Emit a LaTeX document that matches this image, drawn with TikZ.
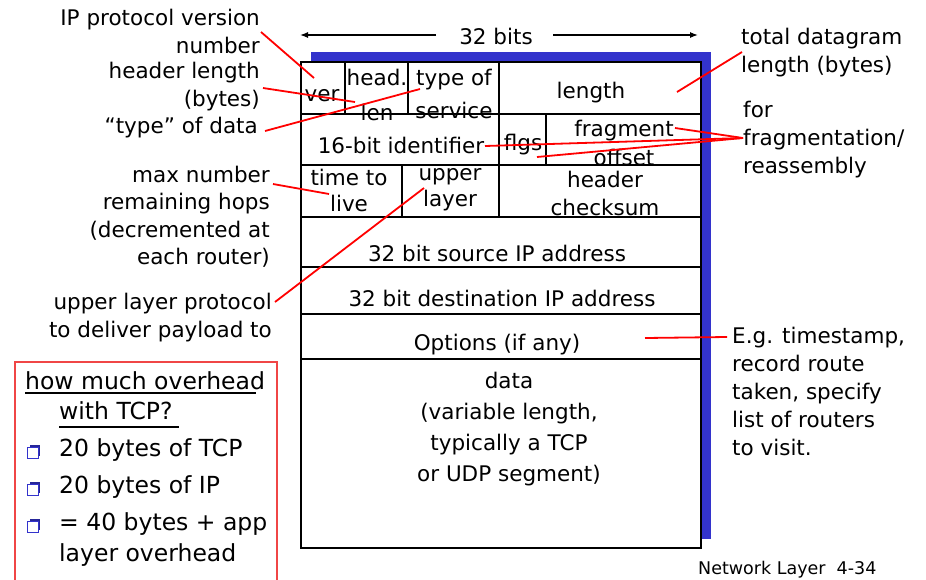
\documentclass[tikz,border=0pt]{standalone}
\usepackage{fontspec}
\setmainfont{DejaVu Sans}
\usetikzlibrary{arrows.meta}
\definecolor{shadowblue}{RGB}{51,51,204}
\definecolor{lnred}{RGB}{255,0,0}
\definecolor{boxred}{RGB}{240,70,70}
\newcommand\fsz[2]{\fontsize{#1}{#2}\selectfont}
\begin{document}
\begin{tikzpicture}[x=1pt,y=-1pt,
  cell/.style={draw=black, line width=2, anchor=north west, inner sep=0, outer sep=0},
  txt/.style={inner sep=0, align=center, font=\fsz{21.5}{28}},
  lblr/.style={inner sep=0, align=right, anchor=east, font=\fsz{21.5}{28}},
  lbll/.style={inner sep=0, align=left, anchor=west, font=\fsz{21.5}{28}},
  boxt/.style={inner sep=0, align=left, anchor=west, font=\fsz{23.5}{31}},
  ptr/.style={draw=lnred, line width=1.8},
  dimarrow/.style={draw=black, line width=1.3, -{Latex[length=8, width=6]}},
  bulsq/.style={draw=shadowblue, line width=1.4, fill=white, minimum width=11, minimum height=11, inner sep=0}
]
\useasboundingbox[fill=white] (0,0) rectangle (926,579);

% blue shadow and table background
\fill[shadowblue] (311,52) rectangle (711,539);
\fill[white] (301,62) rectangle (701,548);

% cells
\node[cell, minimum width=44,  minimum height=52] (cver)  at (301,62) {};
\node[cell, minimum width=63,  minimum height=52] (chl)   at (345,62) {};
\node[cell, minimum width=91,  minimum height=52] (ctos)  at (408,62) {};
\node[cell, minimum width=202, minimum height=52] (clen)  at (499,62) {};
\node[cell, minimum width=198, minimum height=51] (cid)   at (301,114) {};
\node[cell, minimum width=47,  minimum height=51] (cflg)  at (499,114) {};
\node[cell, minimum width=155, minimum height=51] (cfrag) at (546,114) {};
\node[cell, minimum width=101, minimum height=52] (cttl)  at (301,165) {};
\node[cell, minimum width=97,  minimum height=52] (cul)   at (402,165) {};
\node[cell, minimum width=202, minimum height=52] (ccks)  at (499,165) {};
\node[cell, minimum width=400, minimum height=50] (csrc)  at (301,217) {};
\node[cell, minimum width=400, minimum height=47] (cdst)  at (301,267) {};
\node[cell, minimum width=400, minimum height=45] (copt)  at (301,314) {};
\node[cell, minimum width=400, minimum height=189] (cdata) at (301,359) {};

% cell texts
\node[txt] (tver) at (322,96) {ver};
\node[txt, font=\fsz{21.5}{35}] (thl) at (377,94.5) {head.\\len};
\node[txt, font=\fsz{21.5}{33}] (ttos) at (454,93.5) {type of\\service};
\node[txt] (tlen) at (591,93) {length};
\node[txt] (tid) at (401,145) {16-bit identifier};
\node[txt] (tflg) at (523,145) {flgs};
\node[txt, font=\fsz{21.5}{29}] (tfrag) at (624,142.5) {fragment\\offset};
\node[txt, font=\fsz{21.5}{26}] (tttl) at (349,190) {time to\\live};
\node[txt, font=\fsz{21.5}{26}] (tul) at (450,190) {upper\\layer};
\node[txt, font=\fsz{21.5}{28}] (tcks) at (605,193) {header\\checksum};
\node[txt] (tsrc) at (497,253) {32 bit source IP address};
\node[txt] (tdst) at (502,298) {32 bit destination IP address};
\node[txt] (topt) at (497,345) {Options (if any)};
\node[txt, font=\fsz{21.5}{31}] (tdata) at (509,429) {data\\(variable length,\\typically a TCP\\ or UDP segment)};

% 32 bits
\node[txt] (bits) at (496,36) {32 bits};
\coordinate (bl0) at (436,35);
\coordinate (bl1) at (300,35);
\coordinate (br0) at (553,35);
\coordinate (br1) at (698,35);
\draw[dimarrow] (bl0) -- (bl1);
\draw[dimarrow] (br0) -- (br1);

% left labels
\node[lblr] (lver) at (260,31) {IP protocol version\\number};
\node[lblr] (lhl) at (260,87) {header length\\(bytes)};
\node[lblr] (ltos) at (258,128) {“type” of data};
\node[lblr, font=\fsz{21.5}{27.5}] (lttl) at (270,216.5) {max number\\remaining hops\\(decremented at\hspace*{0.3em}\\each router)};
\node[lblr] (lul) at (272,318) {upper layer protocol\\to deliver payload to};

% right labels
\node[lbll] (rlen) at (741,52.5) {total datagram\\length (bytes)};
\node[lbll] (rfrag) at (743,139.5) {for\\fragmentation/\\reassembly};
\node[lbll] (ropt) at (732,391) {E.g. timestamp,\\record route\\taken, specify\\list of routers\\to visit.};

% pointer coordinates
\coordinate (pver0) at (261,32);   \coordinate (pver1) at (314,78);
\coordinate (phl0) at (263,88);    \coordinate (phl1) at (355,102);
\coordinate (ptos0) at (265,131);  \coordinate (ptos1) at (420,89);
\coordinate (pttl0) at (273,184);  \coordinate (pttl1) at (329,194);
\coordinate (pul0) at (275,302);   \coordinate (pul1) at (424,188);
\coordinate (plen0) at (742,52);   \coordinate (plen1) at (677,92);
\coordinate (pfr0) at (743,138);
\coordinate (pfr1) at (675,128);   \coordinate (pfr2) at (485,146);   \coordinate (pfr3) at (537,157);
\coordinate (popt0) at (727,337);  \coordinate (popt1) at (645,338);

\draw[ptr] (pver0) -- (pver1);
\draw[ptr] (phl0) -- (phl1);
\draw[ptr] (ptos0) -- (ptos1);
\draw[ptr] (pttl0) -- (pttl1);
\draw[ptr] (pul0) -- (pul1);
\draw[ptr] (plen0) -- (plen1);
\draw[ptr] (pfr0) -- (pfr1);
\draw[ptr] (pfr0) -- (pfr2);
\draw[ptr] (pfr0) -- (pfr3);
\draw[ptr] (popt0) -- (popt1);

% overhead box
\draw[boxred, line width=1.5] (15,362) rectangle (277,600);
\node[boxt] (h1) at (25,381) {how much overhead};
\node[boxt] (h2) at (59,411) {with TCP?};
\draw[black, line width=2] (25,393) -- (256,393);
\draw[black, line width=2] (59,427) -- (179,427);
\node[boxt] (i1) at (59,450) {20 bytes of TCP};
\node[boxt] (i2) at (59,487) {20 bytes of IP};
\node[boxt, font=\fsz{23.5}{31}] (i3) at (59,539.5) {= 40 bytes + app\\layer overhead};
\foreach \yy/\nm in {453/b1,490/b2,527/b3}{
  \fill[shadowblue!75!black] (30,\yy-8.5) rectangle (40,\yy+2.5);
  \node[bulsq] (\nm) at (33,\yy) {};
}

% footer
\node[inner sep=0, anchor=north west, font=\fsz{17.5}{21}] (foot) at (698,561) {Network Layer\ \ 4-34};
\end{tikzpicture}
\end{document}
